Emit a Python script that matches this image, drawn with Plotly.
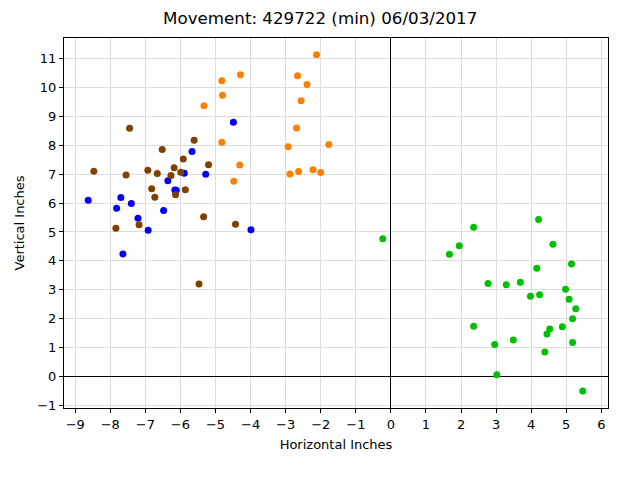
import plotly.graph_objects as go

# Point groups (inches)
blue_x = [-4.49, -5.67, -5.89, -5.28, -6.36, -6.16, -6.12, -8.63, -7.70, -7.82,
          -7.40, -6.48, -7.21, -6.92, -3.99, -7.64]
blue_y = [8.79, 7.78, 7.03, 6.99, 6.77, 6.45, 6.44, 6.10, 6.19, 5.82,
          5.98, 5.74, 5.47, 5.06, 5.08, 4.24]

brown_x = [-7.45, -5.61, -6.52, -5.92, -5.20, -8.47, -7.55, -6.93, -6.66, -6.18,
           -6.27, -5.99, -6.82, -5.86, -6.73, -6.14, -5.34, -4.43, -7.84, -7.18,
           -5.47]
brown_y = [8.58, 8.17, 7.85, 7.52, 7.32, 7.10, 6.97, 7.13, 7.02, 7.22,
           6.95, 7.06, 6.49, 6.46, 6.20, 6.29, 5.53, 5.27, 5.13, 5.25,
           3.20]

orange_x = [-2.12, -4.29, -4.82, -2.66, -2.39, -4.80, -2.56, -5.33, -2.69, -4.82,
            -2.93, -1.77, -4.31, -2.88, -2.63, -2.22, -2.00, -4.48]
orange_y = [11.12, 10.43, 10.22, 10.40, 10.09, 9.72, 9.53, 9.36, 8.59, 8.10,
            7.94, 8.02, 7.31, 7.00, 7.09, 7.15, 7.05, 6.75]

green_x = [-0.23, 2.36, 1.95, 1.67, 4.21, 4.62, 5.15, 4.16, 2.77, 3.29,
           3.69, 3.98, 4.24, 4.98, 5.08, 5.27, 5.18, 4.89, 4.53, 4.45,
           2.36, 3.49, 2.96, 5.18, 4.39, 3.02, 5.47]
green_y = [4.77, 5.16, 4.52, 4.23, 5.43, 4.58, 3.89, 3.75, 3.22, 3.18,
           3.26, 2.78, 2.83, 3.02, 2.68, 2.35, 2.00, 1.73, 1.65, 1.48,
           1.74, 1.27, 1.11, 1.18, 0.85, 0.07, -0.49]

x_ticks = list(range(-9, 7))
y_ticks = list(range(-1, 12))

groups = [
    (blue_x, blue_y, '#0000ff'),
    (brown_x, brown_y, '#804000'),
    (orange_x, orange_y, '#ff8000'),
    (green_x, green_y, '#00c000'),
]

fig = go.Figure()
for xs, ys, color in groups:
    fig.add_trace(go.Scatter(x=xs, y=ys, mode='markers',
                             marker=dict(color=color, size=7),
                             showlegend=False))

axis_style = dict(
    showgrid=True, gridcolor='#dcdcdc', gridwidth=1,
    zeroline=True, zerolinecolor='black', zerolinewidth=1.2,
    showline=True, linecolor='black', linewidth=1, mirror=True,
    ticks='outside', ticklen=4, tickcolor='black',
    tickfont=dict(family='DejaVu Sans', size=13, color='black'),
)

# page body adds an 8px margin, so the figure is 8px smaller
fig.update_layout(
    width=632, height=472,
    margin=dict(l=56, r=32, t=30, b=72),
    paper_bgcolor='white', plot_bgcolor='white',
    title=dict(text='Movement: 429722 (min) 06/03/2017', x=0.494, xref='container',
               xanchor='center', y=0.979, yanchor='middle',
               font=dict(family='DejaVu Sans', size=16.7, color='black')),
    xaxis=dict(range=[-9.32, 6.19], tickvals=x_ticks,
               title=dict(text='Horizontal Inches', standoff=9,
                          font=dict(family='DejaVu Sans', size=13, color='black')),
               **axis_style),
    yaxis=dict(range=[-1.08, 11.7], tickvals=y_ticks, **axis_style),
)

# y label placed a bit further left than plotly's title allows
fig.add_annotation(text='Vertical Inches', textangle=-90,
                   x=0, xref='paper', y=0.5, yref='paper',
                   xanchor='right', yanchor='middle', xshift=-36,
                   showarrow=False,
                   font=dict(family='DejaVu Sans', size=13, color='black'))

fig.write_html("out.html")
